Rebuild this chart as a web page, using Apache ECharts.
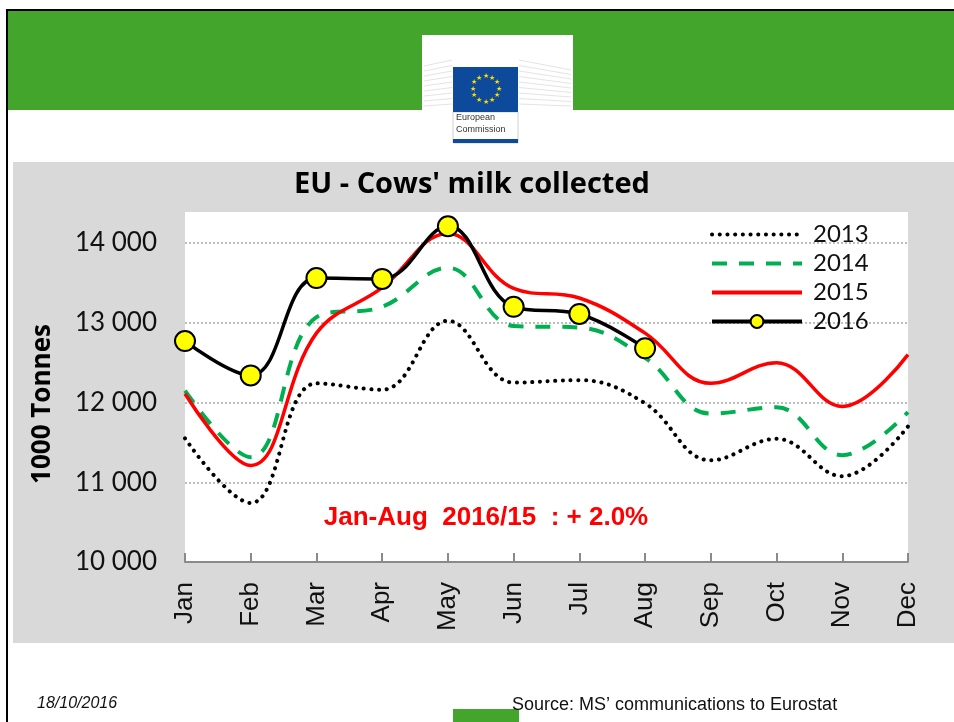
<!DOCTYPE html>
<html lang="en">
<head>
<meta charset="utf-8">
<title>EU - Cows' milk collected</title>
<script src="https://cdn.jsdelivr.net/npm/echarts@6/dist/echarts.min.js"></script>
<style>
  html, body { margin: 0; padding: 0; background: #fff; }
  #main { width: 954px; height: 722px; }
</style>
</head>
<body>
<div id="main"></div>
<script type="text/javascript">
"use strict";
// data (1000 tonnes)
var months = ['Jan', 'Feb', 'Mar', 'Apr', 'May', 'Jun', 'Jul', 'Aug', 'Sep', 'Oct', 'Nov', 'Dec'];
var years = ['2013', '2014', '2015', '2016'];
var milk2013 = [11550, 10740, 12240, 12160, 13025, 12250, 12280, 11990, 11275, 11545, 11075, 11700];
var milk2014 = [12150, 11315, 13070, 13200, 13690, 12960, 12940, 12560, 11860, 11940, 11340, 11880];
var milk2015 = [12110, 11210, 12870, 13440, 14120, 13430, 13310, 12870, 12240, 12500, 11950, 12600];
var milk2016 = [12770, 12340, 13560, 13550, 14210, 13200, 13110, 12680];

var myChart = echarts.init(document.getElementById('main'));

var green = '#43a52c';
var graphics = [
    // slide frame + banner
    { type: 'rect', z: -30, shape: { x: 8, y: 11, width: 946, height: 99 }, style: { fill: green } },
    { type: 'rect', z: -29, shape: { x: 6, y: 9, width: 948, height: 2 }, style: { fill: '#000' } },
    { type: 'rect', z: -29, shape: { x: 6, y: 9, width: 2, height: 713 }, style: { fill: '#000' } },
    // logo
    { type: 'rect', z: -28, shape: { x: 422, y: 35, width: 151, height: 76 }, style: { fill: '#fff' } },
    { type: 'rect', z: -27, shape: { x: 453, y: 112, width: 65, height: 31 }, style: { fill: '#fff', stroke: '#d0d0d0', lineWidth: 1 } },
    { type: 'rect', z: -26, shape: { x: 453, y: 67, width: 65, height: 45 }, style: { fill: '#0d4a9b' } },
    { type: 'rect', z: -26, shape: { x: 453, y: 139, width: 65, height: 4 }, style: { fill: '#0d4a9b' } },
    { type: 'text', z: -26, x: 456, y: 118, style: { text: 'European', fontSize: 9, fontFamily: 'Liberation Sans', fill: '#333', verticalAlign: 'middle' } },
    { type: 'text', z: -26, x: 456, y: 130, style: { text: 'Commission', fontSize: 9, fontFamily: 'Liberation Sans', fill: '#333', verticalAlign: 'middle' } },
    // chart background
    { type: 'rect', z: -25, shape: { x: 13, y: 162, width: 941, height: 481 }, style: { fill: '#d9d9d9' } },
    { type: 'rect', z: -24, shape: { x: 185, y: 212, width: 723, height: 350 }, style: { fill: '#fff' } },
    // texts
    { type: 'text', x: 472, y: 185, style: { text: "EU - Cows' milk collected", font: 'bold 29px "Open Sans"', fill: '#000', align: 'center', verticalAlign: 'middle' } },
    { type: 'text', x: 43, y: 404, rotation: Math.PI / 2, style: { text: '1000 Tonnes', font: 'bold 26px "Open Sans"', fill: '#000', align: 'center', verticalAlign: 'middle' } },
    { type: 'text', x: 486, y: 518, style: { text: 'Jan-Aug  2016/15  : + 2.0%', font: 'bold 26px "Liberation Sans"', fill: '#ff0000', align: 'center', verticalAlign: 'middle' } },
    { type: 'rect', shape: { x: 453, y: 709, width: 66, height: 13 }, style: { fill: green } },
    { type: 'text', x: 37, y: 704, style: { text: '18/10/2016', font: 'italic 16px "Liberation Sans"', fill: '#111', verticalAlign: 'middle' } },
    { type: 'text', z: 10, x: 512, y: 705, style: { text: 'Source: MS\u2019 communications to Eurostat', font: '18px "Liberation Sans"', fill: '#111', verticalAlign: 'middle' } }
];
// faint building lines of the logo
for (var k = 0; k < 9; k++) {
    graphics.push({ type: 'line', z: -27, shape: { x1: 424, y1: 66 + k * 5, x2: 452, y2: 60 + k * 5.5 }, style: { stroke: '#e4e4e4', lineWidth: 1 } });
    graphics.push({ type: 'line', z: -27, shape: { x1: 519, y1: 60 + k * 5.5, x2: 571, y2: 70 + k * 4.5 }, style: { stroke: '#e4e4e4', lineWidth: 1 } });
}
// EU stars
for (var i = 0; i < 12; i++) {
    var a = i * Math.PI / 6;
    graphics.push({
        type: 'text', z: -25,
        x: 485.5 + 13 * Math.sin(a), y: 89 - 13 * Math.cos(a),
        style: { text: '\u2605', fontSize: 7, fill: '#ffdd00', align: 'center', verticalAlign: 'middle' }
    });
}

var option = {
    animation: false,
    graphic: graphics,
    grid: { left: 185, right: 46, top: 243, bottom: 160 },
    legend: {
        orient: 'vertical',
        left: 710,
        top: 220,
        padding: 0,
        itemGap: 0,
        itemWidth: 90,
        itemHeight: 16,
        data: [
            { name: years[0], itemStyle: { opacity: 0 }, lineStyle: { width: 4 } },
            { name: years[1], itemStyle: { opacity: 0 }, lineStyle: { width: 4 } },
            { name: years[2], itemStyle: { opacity: 0 }, lineStyle: { width: 4 } },
            { name: years[3], lineStyle: { width: 4 } }
        ],
        textStyle: { fontFamily: 'Lato', fontSize: 24, color: '#111', lineHeight: 29, padding: [0, 0, 0, 6] }
    },
    xAxis: {
        type: 'category',
        boundaryGap: false,
        data: months,
        axisLine: { lineStyle: { color: '#8a8a8a', width: 2 } },
        axisTick: { inside: true, length: 9, lineStyle: { color: '#8a8a8a', width: 2 } },
        axisLabel: { rotate: 90, margin: 20, fontSize: 26, fontFamily: 'Liberation Sans', color: '#111' }
    },
    yAxis: {
        type: 'value',
        min: 10000,
        max: 14000,
        interval: 1000,
        axisLine: { show: false },
        axisTick: { show: false },
        axisLabel: {
            margin: 28, fontSize: 26, fontFamily: 'Lato', color: '#111',
            formatter: function (v) { return String(v).replace(/(\d)(\d{3})$/, '$1 $2'); }
        },
        splitLine: { lineStyle: { color: '#bdbdbd', width: 2, type: [2, 2] } }
    },
    series: [
        {
            name: '2013', type: 'line', data: milk2013, smooth: 0.4, symbol: 'none', clip: false,
            itemStyle: { color: '#000' },
            lineStyle: { color: '#000', width: 4, type: [0.1, 7.6], cap: 'round' }
        },
        {
            name: '2014', type: 'line', data: milk2014, smooth: 0.4, symbol: 'none', clip: false,
            itemStyle: { color: '#00b050' },
            lineStyle: { color: '#00b050', width: 4, type: [15, 12] }
        },
        {
            name: '2015', type: 'line', data: milk2015, smooth: 0.4, symbol: 'none', clip: false,
            itemStyle: { color: '#ff0000' },
            lineStyle: { color: '#ff0000', width: 3.5 }
        },
        {
            name: '2016', type: 'line', data: milk2016, smooth: 0.4, clip: false,
            symbol: 'circle', symbolSize: 20, showAllSymbol: true,
            itemStyle: { color: '#ffff00', borderColor: '#000', borderWidth: 2 },
            lineStyle: { color: '#000', width: 3.5 }
        }
    ]
};

myChart.setOption(option);
</script>
</body>
</html>
